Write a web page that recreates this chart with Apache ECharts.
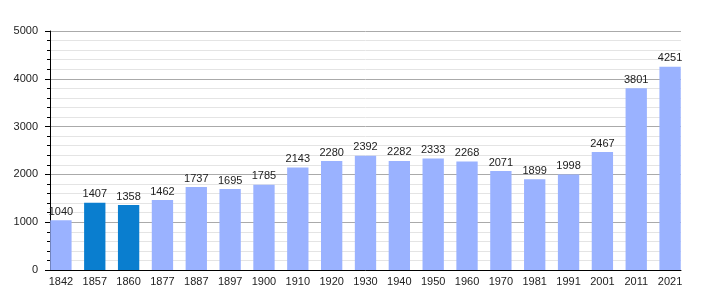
<!DOCTYPE html>
<html><head><meta charset="utf-8">
<script src="https://cdn.jsdelivr.net/npm/echarts@6/dist/echarts.min.js"></script>
<style>html,body{margin:0;padding:0;background:#fff}#c{width:710px;height:300px}</style>
</head><body><div id="c"></div>
<script>
const years = ['1842','1857','1860','1877','1887','1897','1900','1910','1920','1930','1940','1950','1960','1970','1981','1991','2001','2011','2021'];
const population = [1040,1407,1358,1462,1737,1695,1785,2143,2280,2392,2282,2333,2268,2071,1899,1998,2467,3801,4251];
const highlighted = ['1857','1860'];
const yTicks = [0,1000,2000,3000,4000,5000];

const font = 'Liberation Sans, Arial, sans-serif';
const chart = echarts.init(document.getElementById('c'), null, {renderer:'canvas'});
chart.setOption({
  animation:false,
  grid:[
    {left:50,right:29,top:31,bottom:30,containLabel:false},
    {left:44,right:23,top:31,bottom:30,containLabel:false}
  ],
  xAxis:[
    {gridIndex:0,type:'category',data:years,
      axisLine:{lineStyle:{color:'#000',width:1}},
      axisTick:{show:false},axisLabel:{show:false}},
    {gridIndex:1,type:'category',data:years,
      axisLine:{show:false},axisTick:{show:false},
      axisLabel:{color:'#222',fontSize:11,fontFamily:font,margin:6,interval:0}}
  ],
  yAxis:[
    {gridIndex:0,type:'value',min:yTicks[0],max:yTicks[yTicks.length-1],interval:1000,
      axisLine:{show:true,lineStyle:{color:'#000',width:1}},
      axisTick:{show:true,length:5,lineStyle:{color:'#000'}},
      minorTick:{show:true,splitNumber:5,length:3,lineStyle:{color:'#000'}},
      splitLine:{show:true,lineStyle:{color:'#aaaaaa',width:1}},
      minorSplitLine:{show:true,lineStyle:{color:'#e4e4e4',width:1}},
      axisLabel:{color:'#222',fontSize:11,fontFamily:font,margin:12,formatter:v=>String(v)}},
    {gridIndex:1,type:'value',min:yTicks[0],max:yTicks[yTicks.length-1],show:false,splitLine:{show:false}}
  ],
  series:[{type:'bar',xAxisIndex:1,yAxisIndex:1,barWidth:'63%',
    data:population.map((v,i)=>({value:v,itemStyle:{color:highlighted.includes(years[i])?'#0a7ecf':'#9ab2ff'}})),
    label:{show:true,position:'top',color:'#222',fontSize:11,fontFamily:font,distance:3}
  }]
});
</script></body></html>
